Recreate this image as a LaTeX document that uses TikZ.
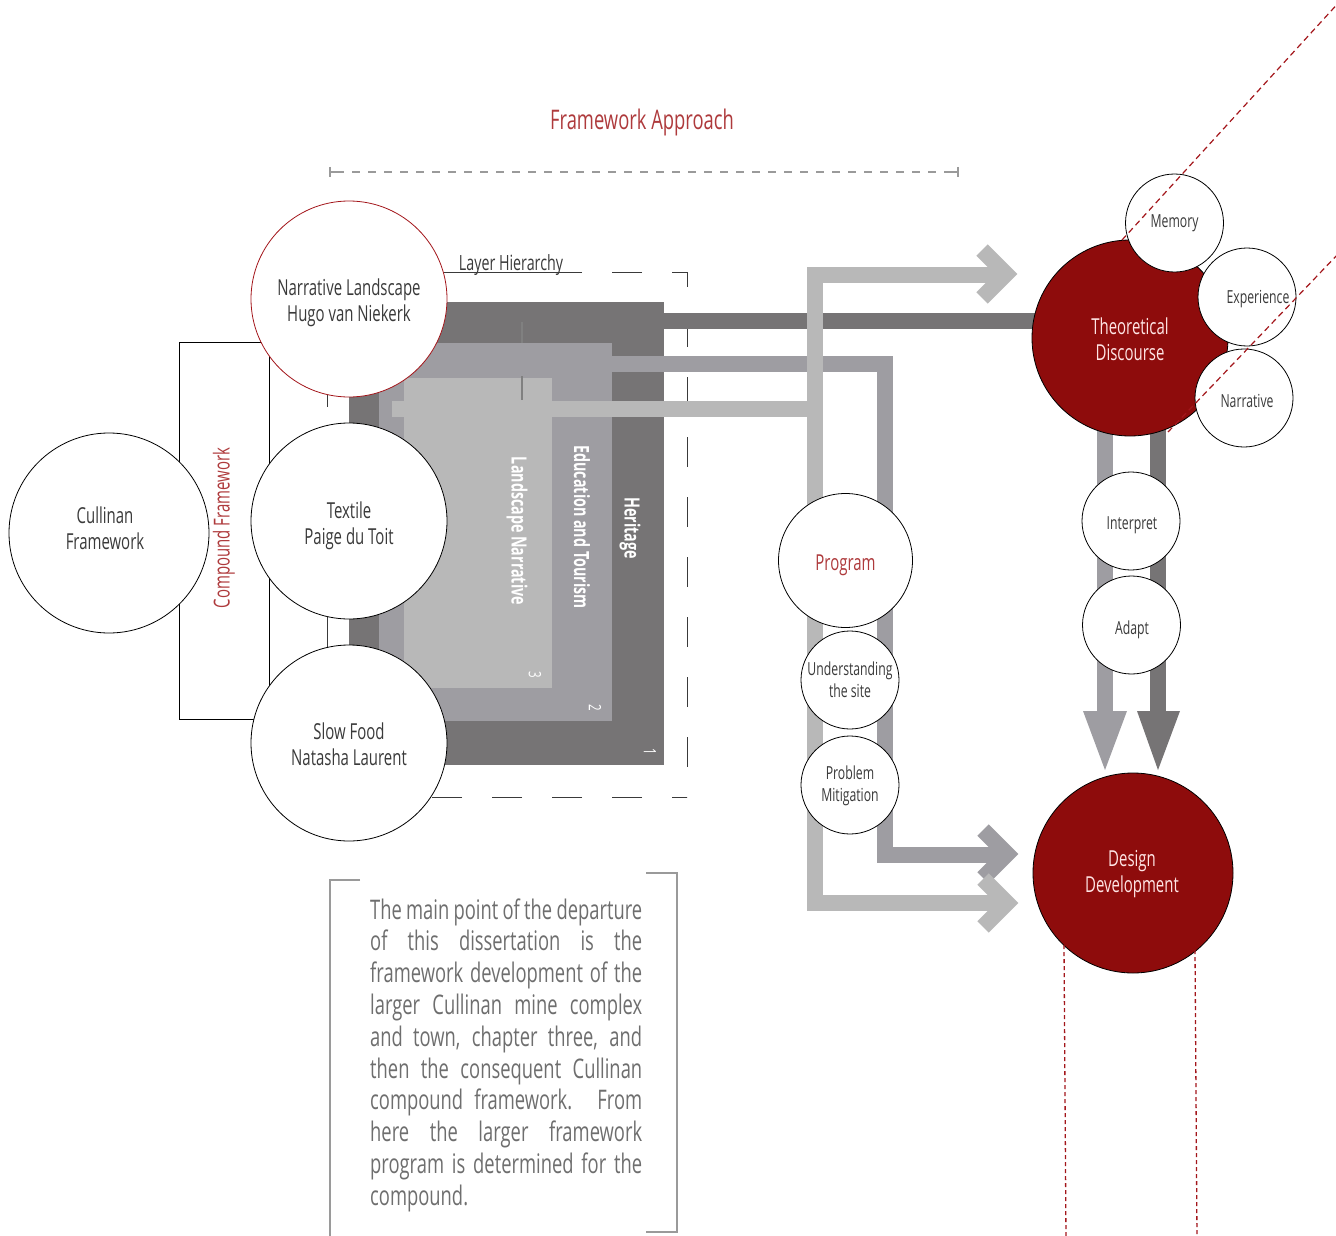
\documentclass[tikz,border=0pt]{standalone}
\usepackage{fontspec}
\setmainfont{Open Sans}[FakeStretch=0.68]
\usetikzlibrary{calc}
\definecolor{layA}{HTML}{767475}
\definecolor{layB}{HTML}{9E9DA2}
\definecolor{layC}{HTML}{B8B8B8}
\definecolor{dred}{HTML}{8E0C0C}
\definecolor{lred}{HTML}{A3161B}
\definecolor{tred}{HTML}{AE3A3C}
\definecolor{txtc}{HTML}{3A3A3A}
\definecolor{paragc}{HTML}{6E6E6E}
\definecolor{dashg}{HTML}{9A9A9A}
\begin{document}
\begin{tikzpicture}[x=1pt,y=-1pt,
  circ/.style={circle,draw=black,line width=0.8pt,fill=white,inner sep=0pt},
  bigc/.style={circ,minimum size=196pt},
  smallc/.style={circ,minimum size=98pt},
  redc/.style={circ,fill=dred},
  btxt/.style={text=txtc,align=center,inner sep=0pt,font=\fontsize{22}{26}\selectfont},
  stxt/.style={text=txtc,align=center,inner sep=0pt,font=\fontsize{18}{22}\selectfont},
  rtxt/.style={btxt,text=white!90!red},
  bar/.style={line width=16pt,line join=miter,line cap=butt},
  rdash/.style={draw=lred,line width=1.2pt,dash pattern=on 6pt off 4pt},
  vdash/.style={draw=lred,line width=1.3pt,dash pattern=on 4pt off 3pt},
  laylbl/.style={text=white,font=\fontsize{21}{22}\selectfont\bfseries,rotate=-90,inner sep=0pt},
  laynum/.style={text=white,font=\fontsize{17}{20}\selectfont,rotate=-90,inner sep=0pt},
  hdash/.style={draw=txtc,line width=1pt,dash pattern=on 30pt off 30pt,dash phase=15pt},
]
\useasboundingbox (0,0) rectangle (1336,1236);
\clip (0,0) rectangle (1336,1236);

% title
\node[text=tred,font=\fontsize{27}{32}\selectfont] (title) at (642,122) {Framework Approach};
\draw[dashg,line width=1.5pt,dash pattern=on 8pt off 8pt] (336,172) -- (952,172);
\draw[dashg,line width=1.5pt] (330,167) -- (330,177) (330,172) -- (336,172)
  (958,167) -- (958,177) (952,172) -- (958,172);

% layer hierarchy dashed frame
\draw[hdash] (687,272) -- (327,272);
\draw[hdash] (687,272) -- (687,797);
\draw[hdash] (687,797) -- (327,797);
\draw[hdash] (327,272) -- (327,797);

% compound framework frame
\draw[black,line width=0.8pt] (179,342) rectangle (269,719);

% layers
\fill[layA] (349,302) rectangle (664,765);
\fill[layB] (379,343) rectangle (612,721);
\fill[layC] (404,378) rectangle (552,688);
\draw[gray,line width=1.3pt] (522,322) -- (522,343) (522,376) -- (522,400);

\node[laylbl] (lh) at (630,528) {Heritage};
\node[laylbl] (le) at (582,527) {Education and Tourism};
\node[laylbl] (ll) at (517,531) {Landscape Narrative};
\node[laynum] (n1) at (650,752) {1};
\node[laynum] (n2) at (595,708) {2};
\node[laynum] (n3) at (535,675) {3};

% connectors (bars)
\coordinate (dA) at (664,321);
\coordinate (dB) at (612,364);
\coordinate (dC) at (392,408.5);
\coordinate (tipT) at (1006,274);
\coordinate (tipM) at (1007,854);
\coordinate (tipL) at (1007,903);

\draw[bar,layA] (dA) -- (1040,321);
\draw[bar,layA] (1158,420) -- (1158,712);
\fill[layA] (1137,711) -- (1180,711) -- (1158,770) -- cycle;
\draw[bar,layB] (1105,420) -- (1105,712);
\fill[layB] (1083,711) -- (1127,711) -- (1105,770) -- cycle;

\draw[bar,layB] (dB) -- (885,364) -- (885,854.5) -- (1000,854.5);
\draw[bar,layB] ($(tipM)+(-24,-24)$) -- (tipM) -- ($(tipM)+(-24,24)$);

\draw[bar,layC] (dC) -- (814.5,408.5);
\draw[bar,layC] (1000,275) -- (814.5,275) -- (814.5,903) -- (1000,903);
\draw[bar,layC] ($(tipT)+(-24,-24)$) -- (tipT) -- ($(tipT)+(-24,24)$);
\draw[bar,layC] ($(tipL)+(-24,-24)$) -- (tipL) -- ($(tipL)+(-24,24)$);

% left circles
\node[bigc,minimum size=200pt] (cf) at (109,533) {};
\node[btxt] (cft) at (105,528) {Cullinan\\Framework};
\node[bigc,draw=lred] (nl) at (349,299) {};
\node[btxt] (nlt) at (349,303) {Narrative Landscape\\Hugo van Niekerk};
\node[bigc] (tx) at (349,521) {};
\node[btxt] (txt) at (349,526) {Textile\\Paige du Toit};
\node[bigc] (sf) at (349,743) {};
\node[btxt] (sft) at (349,744) {Slow Food\\Natasha Laurent};
\node[text=tred,font=\fontsize{22}{24}\selectfont,rotate=90,inner sep=0pt] (cfl) at (224,528) {Compound Framework};

% layer hierarchy label
\node[text=txtc,font=\fontsize{21}{24}\selectfont,inner sep=0pt] (lhl) at (511,265) {Layer Hierarchy};
\draw[txtc,line width=1pt] (457,272) -- (582,272);

% program column
\node[circ,minimum size=134pt] (prog) at (845.5,560.5) {};
\node[btxt,text=tred] (progt) at (845.5,565.5) {Program};
\node[smallc] (und) at (850,680) {};
\node[stxt] (undt) at (850,680) {Understanding\\the site};
\node[smallc] (prob) at (850,785) {};
\node[stxt] (probt) at (850,786) {Problem\\Mitigation};

% theoretical discourse
\node[redc,minimum size=196pt] (td) at (1130,338) {};
\node[rtxt] (tdt) at (1130,339) {Theoretical\\Discourse};
\node[smallc] (mem) at (1174.5,223) {};
\node[stxt] (memt) at (1174.5,223) {Memory};
\node[smallc] (exp) at (1247,297) {};
\node[stxt] (expt) at (1258,299) {Experience};
\node[smallc] (nar) at (1244,398) {};
\node[stxt] (nart) at (1247,401) {Narrative};
\node[smallc] (intp) at (1131,521) {};
\node[stxt] (intpt) at (1132,525) {Interpret};
\node[smallc] (adp) at (1131.5,625) {};
\node[stxt] (adpt) at (1132,630) {Adapt};

% design development
\node[redc,minimum size=200pt] (dd) at (1133,873) {};
\node[rtxt] (ddt) at (1132,874) {Design\\Development};

% red dashed guide lines
\coordinate (g1a) at (1122,240);
\coordinate (g1b) at (1352,-12);
\coordinate (g2a) at (1168,432);
\coordinate (g2b) at (1361,230);
\draw[rdash] (g1a) -- (g1b);
\draw[rdash] (g2a) -- (g2b);
\coordinate (g3a) at (1064,945);
\coordinate (g3b) at (1066,1240);
\coordinate (g4a) at (1195,950);
\coordinate (g4b) at (1197,1240);
\draw[vdash] (g3a) -- (g3b);
\draw[vdash] (g4a) -- (g4b);

% text box
\draw[dashg,line width=1.3pt] (360,880) -- (330,880) -- (330,1240);
\draw[dashg,line width=1.3pt] (646,873) -- (677,873) -- (677,1232) -- (646,1232);
\node[anchor=base west,inner sep=0pt,text=paragc,font=\fontsize{27}{31.8}\selectfont] (para) at (370,919)
{\parbox[t]{272pt}{%
\hbox to 272pt{The main point of the departure}%
\hbox to 272pt{of this dissertation is the}%
\hbox to 272pt{framework development of the}%
\hbox to 272pt{larger Cullinan mine complex}%
\hbox to 272pt{and town, chapter three, and}%
\hbox to 272pt{then the consequent Cullinan}%
\hbox to 272pt{compound framework. From}%
\hbox to 272pt{here the larger framework}%
\hbox to 272pt{program is determined for the}%
\hbox{compound.}}};
\end{tikzpicture}
\end{document}
